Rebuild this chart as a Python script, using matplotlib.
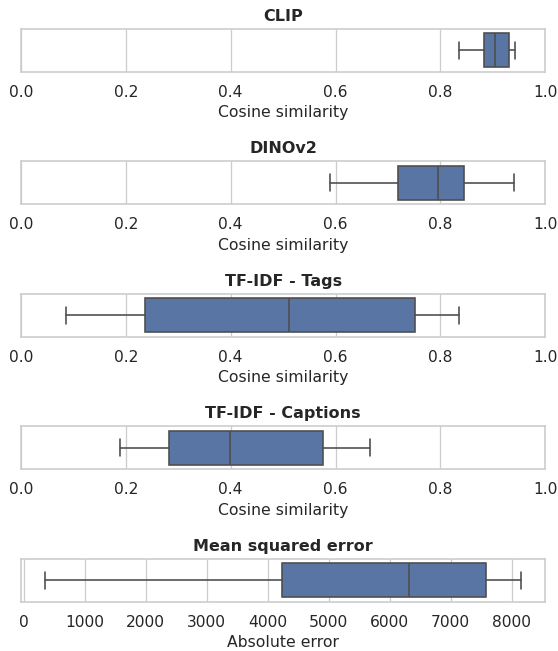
#!/usr/bin/env python
# -*- coding: utf-8 -*-

'''
Box plots of similarity / error between generated and reference samples.
'''

import matplotlib
matplotlib.use("Agg")
import matplotlib.pyplot as plt
import seaborn as sns

# panel titles and x labels
titles = ["CLIP", "DINOv2", "TF-IDF - Tags", "TF-IDF - Captions", "Mean squared error"]
xlabels = ["Cosine similarity"] * 4 + ["Absolute error"]

# box statistics: low whisker, q1, median, q3, high whisker
whislo = [0.836, 0.590, 0.086, 0.189, 346]
q1 = [0.884, 0.720, 0.237, 0.282, 4240]
med = [0.905, 0.796, 0.511, 0.398, 6324]
q3 = [0.930, 0.845, 0.751, 0.576, 7579]
whishi = [0.943, 0.941, 0.836, 0.666, 8163]

cosine_ticks = [0.0, 0.2, 0.4, 0.6, 0.8, 1.0]


def main():
    scale = 0.93
    sns.set_theme(style="whitegrid",
                  rc={"axes.linewidth": 1.25 * scale, "grid.linewidth": 1.0 * scale,
                      "xtick.labelsize": 11.2, "axes.labelsize": 11.25,
                      "axes.titlesize": 11.5})
    plt.rcParams["font.family"] = ["DejaVu Sans"]
    box_color = sns.desaturate(sns.color_palette("deep")[0], 0.75)
    line_color = "#4d4d4d"
    lw = 1.25 * scale

    fig, axes = plt.subplots(5, 1, figsize=(5.58, 6.51))

    for i, ax in enumerate(axes):
        stats = [{
            "whislo": whislo[i], "q1": q1[i], "med": med[i],
            "q3": q3[i], "whishi": whishi[i], "fliers": [],
        }]
        ax.bxp(stats, positions=[0], widths=0.8, capwidths=0.4,
               orientation="horizontal", patch_artist=True,
               boxprops=dict(facecolor=box_color, edgecolor=line_color, linewidth=lw),
               whiskerprops=dict(color=line_color, linewidth=lw),
               capprops=dict(color=line_color, linewidth=lw),
               medianprops=dict(color=line_color, linewidth=lw),
               showfliers=False)
        ax.set_ylim(0.5, -0.5)
        ax.set_yticks([])
        if i < 4:
            ax.set_xlim(0, 1)
            ax.set_xticks(cosine_ticks)
            ax.set_xticklabels(["%.1f" % t for t in cosine_ticks])
        else:
            ax.margins(x=0.05)
            ax.set_xticks(range(0, 9000, 1000))
        ax.set_title(titles[i], fontweight="bold")
        ax.set_xlabel(xlabels[i])

    fig.subplots_adjust(left=0.0376, right=0.9772, top=0.9555, bottom=0.0757,
                        hspace=2.10)
    fig.savefig("out.png", dpi=100)


if (__name__ == "__main__"):
    main()
